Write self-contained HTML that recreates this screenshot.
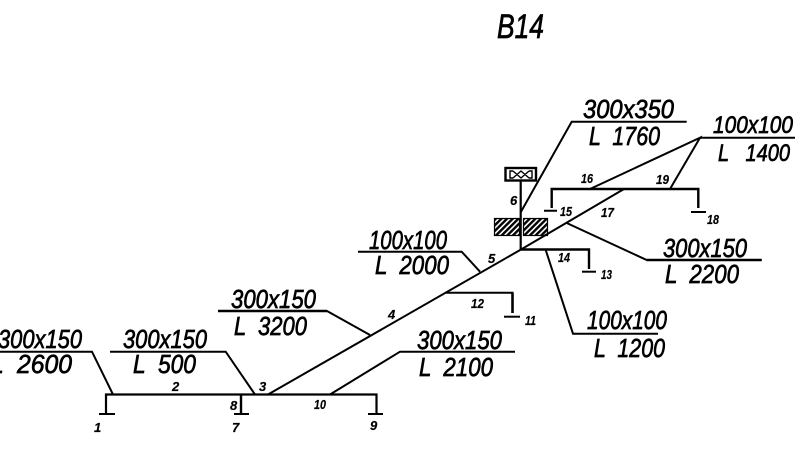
<!DOCTYPE html>
<html>
<head>
<meta charset="utf-8">
<style>
html,body{margin:0;padding:0;background:#fff;width:795px;height:471px;overflow:hidden}
svg{display:block}
text{font-family:"Liberation Sans",sans-serif;font-style:italic;fill:#000;stroke:#000;stroke-width:.7;white-space:pre}
.s{font-size:13px;font-weight:bold;stroke:#000;stroke-width:.2}
.m{font-size:26px}
</style>
</head>
<body>
<svg width="795" height="471" viewBox="0 0 795 471" xmlns="http://www.w3.org/2000/svg">
<defs>
<pattern id="h" width="4" height="4" patternUnits="userSpaceOnUse" patternTransform="rotate(45)">
<rect x="0" y="0" width="2.4" height="4" fill="#000"/>
</pattern>
</defs>
<g fill="none" stroke="#000" stroke-width="2" stroke-linejoin="miter">
<path d="M106 414V394.5H376.5V414" stroke-width="2.2"/>
<path d="M99 414H115M234 414H249M368 414H383"/>
<path d="M241 394.5V414" stroke-width="2.4"/>
<path d="M0 351.7H92L113 394.5"/>
<path d="M110 351.7H225.7L255 394.5"/>
<path d="M218 311H327L370 335"/>
<path d="M218 311H327" stroke-width="2.4"/>
<path d="M268 394.5L521 249.5L624 189"/>
<path d="M330 394.5L400 351.7H515"/>
<path d="M358 251.7H461.7L480 271.7"/>
<path d="M445 292.7H512.5V313"/>
<path d="M512.5 292.7V313" stroke-width="2.6"/>
<path d="M504 316.7H520"/>
<path d="M521 249.5H589V269" stroke-width="2.4"/>
<path d="M582 271.7H596"/>
<path d="M545.7 250L573 333.7H658"/>
<path d="M520.7 250V181" stroke-width="2.2"/>
<rect x="505.5" y="168" width="30.5" height="12.5" stroke-width="2.4"/>
<path d="M513 171H510V178H513M529 171H532V178H529M513 171L521 178L529 171M513 178L521 171L529 178" stroke-width="1.4"/>
<path d="M521 211.7L571.7 121.7H686.7"/>
<path d="M700 137.7H795"/>
<path d="M590 189L700 137.7L670 189"/>
<path d="M551.7 208V189H698.3V208" stroke-width="2.4"/>
<path d="M544 210.7H557M691 212H706"/>
<path d="M566.7 223L646.7 260H761.7"/>
<path d="M646.7 260H761.7" stroke-width="2.4"/>
</g>
<rect x="494.5" y="218.5" width="25" height="17" fill="url(#h)" stroke="#000" stroke-width="1.2"/>
<rect x="523.5" y="218.5" width="24" height="17" fill="url(#h)" stroke="#000" stroke-width="1.2"/>

<text x="497" y="38" font-size="34" textLength="47" lengthAdjust="spacingAndGlyphs">B14</text>

<text class="m" x="-2" y="348" textLength="84" lengthAdjust="spacingAndGlyphs">300x150</text>
<text class="m" x="-10" y="373" textLength="82" lengthAdjust="spacingAndGlyphs">L  2600</text>
<text class="m" x="123" y="348" textLength="84" lengthAdjust="spacingAndGlyphs">300x150</text>
<text class="m" x="133" y="373" textLength="63" lengthAdjust="spacingAndGlyphs">L  500</text>
<text class="m" x="231" y="308" textLength="85" lengthAdjust="spacingAndGlyphs">300x150</text>
<text class="m" x="234" y="335" textLength="73" lengthAdjust="spacingAndGlyphs">L  3200</text>
<text class="m" x="369" y="249" textLength="78" lengthAdjust="spacingAndGlyphs">100x100</text>
<text class="m" x="375" y="274" textLength="74" lengthAdjust="spacingAndGlyphs">L  2000</text>
<text class="m" x="417" y="349" textLength="85" lengthAdjust="spacingAndGlyphs">300x150</text>
<text class="m" x="419" y="376" textLength="74" lengthAdjust="spacingAndGlyphs">L  2100</text>
<text class="m" x="587" y="329" textLength="80" lengthAdjust="spacingAndGlyphs">100x100</text>
<text class="m" x="594" y="357" textLength="71" lengthAdjust="spacingAndGlyphs">L  1200</text>
<text class="m" x="583" y="118" textLength="91" lengthAdjust="spacingAndGlyphs">300x350</text>
<text class="m" x="589" y="145" textLength="71" lengthAdjust="spacingAndGlyphs">L  1760</text>
<text class="m" x="713" y="133" style="font-size:24px" textLength="80" lengthAdjust="spacingAndGlyphs">100x100</text>
<text class="m" x="718" y="161" style="font-size:24px" textLength="72" lengthAdjust="spacingAndGlyphs">L   1400</text>
<text class="m" x="663" y="257" textLength="84" lengthAdjust="spacingAndGlyphs">300x150</text>
<text class="m" x="665" y="283" textLength="74" lengthAdjust="spacingAndGlyphs">L  2200</text>

<text class="s" x="94" y="432">1</text>
<text class="s" x="172" y="391">2</text>
<text class="s" x="259" y="391">3</text>
<text class="s" x="230" y="410">8</text>
<text class="s" x="232" y="432">7</text>
<text class="s" x="314" y="409" textLength="12" lengthAdjust="spacingAndGlyphs">10</text>
<text class="s" x="370" y="430">9</text>
<text class="s" x="388" y="319">4</text>
<text class="s" x="471" y="308" textLength="13" lengthAdjust="spacingAndGlyphs">12</text>
<text class="s" x="525" y="325" textLength="11" lengthAdjust="spacingAndGlyphs">11</text>
<text class="s" x="488" y="263">5</text>
<text class="s" x="558" y="262" textLength="12" lengthAdjust="spacingAndGlyphs">14</text>
<text class="s" x="601" y="279" textLength="11" lengthAdjust="spacingAndGlyphs">13</text>
<text class="s" x="510" y="205">6</text>
<text class="s" x="560" y="216" textLength="12" lengthAdjust="spacingAndGlyphs">15</text>
<text class="s" x="601" y="217" textLength="13" lengthAdjust="spacingAndGlyphs">17</text>
<text class="s" x="581" y="183" textLength="12" lengthAdjust="spacingAndGlyphs">16</text>
<text class="s" x="656" y="184" textLength="13" lengthAdjust="spacingAndGlyphs">19</text>
<text class="s" x="707" y="224" textLength="12" lengthAdjust="spacingAndGlyphs">18</text>
</svg>
</body>
</html>
